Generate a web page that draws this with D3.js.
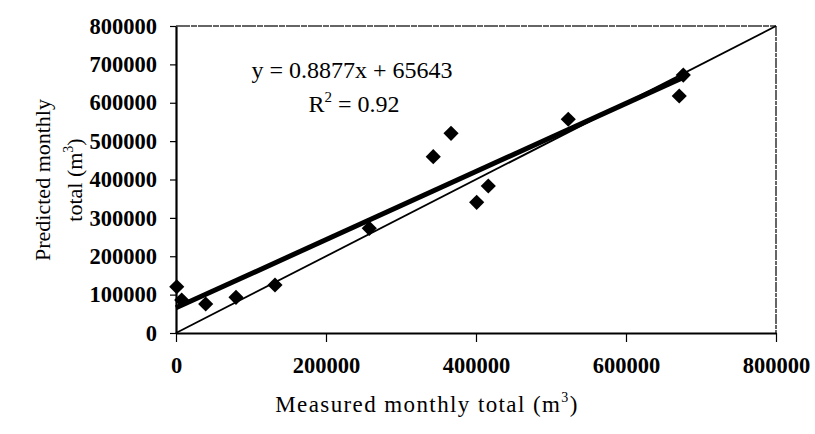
<!DOCTYPE html>
<html>
<head>
<meta charset="utf-8">
<script src="https://cdn.jsdelivr.net/npm/d3@7"></script>
<style>
body { margin: 0; background: #fff; }
text { font-family: "Liberation Serif", "Times New Roman", serif; fill: #000; }
</style>
</head>
<body>
<svg id="chart" width="815" height="434"></svg>
<script>
// measured vs predicted monthly totals (m3)
var measured  = [1000, 7600, 39600, 80000, 132000, 257700, 343000, 366700, 400900, 416400, 523000, 671000, 676400];
var predicted = [120600, 86000, 75600, 93000, 125000, 272800, 459400, 520400, 340600, 383000, 556900, 617600, 672000];
var xTicks = [0, 200000, 400000, 600000, 800000];
var yTicks = [0, 100000, 200000, 300000, 400000, 500000, 600000, 700000, 800000];
var slope = 0.8877, intercept = 65643;
var fitRange = [0, 676400];
var oneToOne = [0, 800000];

var margin = {left: 176, top: 26};
var w = 600, h = 307;

var svg = d3.select("#chart");
var g = svg.append("g").attr("transform", "translate(" + margin.left + "," + margin.top + ")");

var x = d3.scaleLinear().domain([0, 800000]).range([0, w]);
var y = d3.scaleLinear().domain([0, 800000]).range([h, 0]);

// top and right frame
g.append("line").attr("x1", 0).attr("x2", w).attr("y1", 0).attr("y2", 0)
  .attr("stroke", "#333").attr("stroke-width", 1.5).style("stroke-dasharray", "14,1,6,1");
g.append("line").attr("x1", w).attr("x2", w).attr("y1", 0).attr("y2", h)
  .attr("stroke", "#333").attr("stroke-width", 1.5).style("stroke-dasharray", "10,1,4,1");

var xaxis = d3.axisBottom(x).tickValues(xTicks).tickSizeInner(9).tickSizeOuter(0).tickPadding(15).tickFormat(d3.format("d"));
var yaxis = d3.axisLeft(y).tickValues(yTicks).tickSizeInner(6).tickSizeOuter(0).tickPadding(13).tickFormat(d3.format("d"));

var gx = g.append("g").attr("transform", "translate(0," + h + ")").call(xaxis);
var gy = g.append("g").call(yaxis);
[gx, gy].forEach(function(a) {
  a.select(".domain").attr("stroke", "#000").attr("stroke-width", 2.2);
  a.selectAll(".tick line").attr("stroke", "#000").attr("stroke-width", 1.2);
  a.selectAll(".tick text")
    .style("font-family", "'Liberation Serif', serif")
    .style("font-size", "22.5px").style("font-weight", "bold").attr("fill", "#000");
});

// 1:1 line
g.append("line")
  .attr("x1", x(oneToOne[0])).attr("y1", y(oneToOne[0]))
  .attr("x2", x(oneToOne[1])).attr("y2", y(oneToOne[1]))
  .attr("stroke", "#000").attr("stroke-width", 1.8);

// regression line
g.append("line")
  .attr("x1", x(fitRange[0])).attr("y1", y(slope * fitRange[0] + intercept))
  .attr("x2", x(fitRange[1])).attr("y2", y(slope * fitRange[1] + intercept))
  .attr("stroke", "#000").attr("stroke-width", 5);

// points
var diamond = d3.symbol().type(d3.symbolSquare).size(115);
g.selectAll("path.pt").data(measured).enter().append("path")
  .attr("class", "pt")
  .attr("d", diamond)
  .attr("transform", function(d, i) { return "translate(" + x(d) + "," + y(predicted[i]) + ") rotate(45)"; })
  .attr("fill", "#000");

// equation
svg.append("text").attr("x", 352).attr("y", 78).attr("text-anchor", "middle")
  .style("font-size", "24px").text("y = 0.8877x + 65643");
var r2 = svg.append("text").attr("x", 354).attr("y", 112).attr("text-anchor", "middle")
  .style("font-size", "24px");
r2.append("tspan").text("R");
r2.append("tspan").attr("dy", -10).style("font-size", "15px").text("2");
r2.append("tspan").attr("dy", 10).text(" = 0.92");

// axis titles
var xt = svg.append("text").attr("x", 427).attr("y", 412).attr("text-anchor", "middle")
  .style("font-size", "23px").style("letter-spacing", "1.4px");
xt.append("tspan").text("Measured monthly total (m");
xt.append("tspan").attr("dy", -10).style("font-size", "14px").text("3");
xt.append("tspan").attr("dy", 10).text(")");

var yt = svg.append("g").attr("transform", "translate(0,180) rotate(-90)");
yt.append("text").attr("x", 0).attr("y", 50).attr("text-anchor", "middle")
  .style("font-size", "22px").text("Predicted monthly");
var yt2 = yt.append("text").attr("x", 0).attr("y", 82).attr("text-anchor", "middle")
  .style("font-size", "22px");
yt2.append("tspan").text("total (m");
yt2.append("tspan").attr("dy", -9).style("font-size", "14px").text("3");
yt2.append("tspan").attr("dy", 9).text(")");
</script>
</body>
</html>
